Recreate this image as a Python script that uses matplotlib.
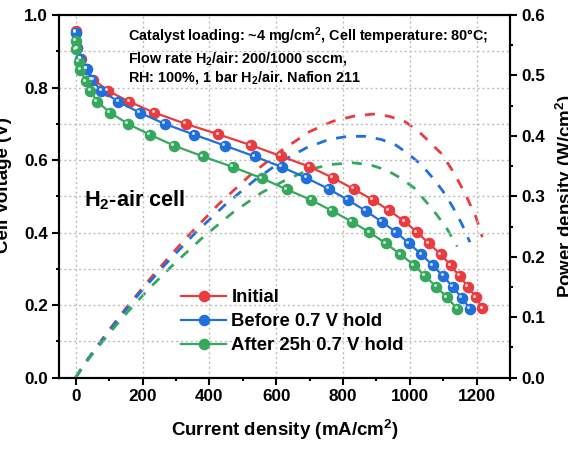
import numpy as np
import matplotlib
matplotlib.use('Agg')
import matplotlib.pyplot as plt
from matplotlib import transforms
from matplotlib.ticker import MultipleLocator

plt.rcParams['font.family'] = ['Liberation Sans', 'DejaVu Sans']
plt.rcParams['font.weight'] = 'bold'
plt.rcParams['axes.labelweight'] = 'bold'
plt.rcParams['mathtext.fontset'] = 'custom'
plt.rcParams['mathtext.rm'] = 'Liberation Sans:bold'
plt.rcParams['mathtext.bf'] = 'Liberation Sans:bold'
plt.rcParams['mathtext.default'] = 'bf'

# current density (mA/cm2) and cell voltage (V)
i_initial = [0, 5, 15, 32, 53, 97, 160, 235, 329, 427, 525, 614, 699, 770, 832,
             890, 938, 984, 1022, 1057, 1093, 1122, 1149, 1174, 1198, 1217]
v_initial = [0.955, 0.908, 0.879, 0.852, 0.822, 0.791, 0.761, 0.731, 0.700, 0.671,
             0.641, 0.611, 0.582, 0.551, 0.520, 0.490, 0.461, 0.431, 0.401, 0.370,
             0.340, 0.310, 0.280, 0.251, 0.222, 0.191]

i_before = [0, 4, 14, 33, 47, 77, 128, 191, 266, 355, 446, 536, 616, 690, 758,
            815, 868, 916, 959, 998, 1035, 1068, 1100, 1128, 1155, 1180]
v_before = [0.950, 0.908, 0.879, 0.851, 0.822, 0.791, 0.761, 0.731, 0.700, 0.670,
            0.640, 0.610, 0.581, 0.551, 0.520, 0.490, 0.460, 0.430, 0.401, 0.370,
            0.340, 0.310, 0.280, 0.251, 0.221, 0.190]

i_after = [0, 1, 10, 14, 31, 44, 64, 103, 156, 222, 294, 381, 470, 557, 632,
           705, 767, 827, 879, 929, 972, 1013, 1046, 1079, 1111, 1142]
v_after = [0.929, 0.905, 0.870, 0.848, 0.817, 0.791, 0.761, 0.731, 0.700, 0.670,
           0.640, 0.610, 0.581, 0.550, 0.519, 0.490, 0.460, 0.430, 0.401, 0.370,
           0.340, 0.310, 0.280, 0.251, 0.222, 0.190]

labels = ['Initial', 'Before 0.7 V hold', 'After 25h 0.7 V hold']
colors = ['#EA3B3F', '#1F6FDC', '#35A85E']

x_ticks = [0, 200, 400, 600, 800, 1000, 1200]


def main():
    fig = plt.figure(figsize=(5.68, 4.62), dpi=100)
    ax = fig.add_axes([0.1039, 0.1825, 0.794, 0.785])
    ax2 = ax.twinx()
    ax.set_zorder(ax2.get_zorder() + 1)
    ax.patch.set_visible(False)

    series = [(i_initial, v_initial), (i_before, v_before), (i_after, v_after)]
    hl = transforms.offset_copy(ax.transData, fig=fig, x=-1.2, y=1.2, units='points')
    for (cur, volt), lab, col in zip(series, labels, colors):
        cur = np.array(cur)
        volt = np.array(volt)
        ax.plot(cur, volt, '-o', color=col, lw=1.6, ms=7.3, mec=col, label=lab,
                zorder=3)
        # small glossy highlight on each ball
        ax.plot(cur, volt, 'o', color='white', ms=2.2, alpha=0.75, mew=0,
                transform=hl, zorder=4)
        # power density = I * V
        ax2.plot(cur, cur * volt / 1000, '--', color=col, lw=2,
                 dashes=(3.6, 3.6))

    ax.set_xlim(-50, 1300)
    ax.set_ylim(0, 1.0)
    ax2.set_ylim(0, 0.6)
    ax.set_xticks(x_ticks)
    ax.xaxis.set_minor_locator(MultipleLocator(100))
    ax.yaxis.set_major_locator(MultipleLocator(0.2))
    ax.yaxis.set_minor_locator(MultipleLocator(0.1))
    ax2.yaxis.set_major_locator(MultipleLocator(0.1))
    ax2.yaxis.set_minor_locator(MultipleLocator(0.05))

    ax.grid(True, which='major', axis='x', ls=(0, (1.5, 2)), color='#bdbdbd', lw=1)
    ax.grid(True, which='both', axis='y', ls=(0, (1.5, 2)), color='#bdbdbd', lw=1)

    for a in (ax, ax2):
        for s in a.spines.values():
            s.set_linewidth(1.5)
        a.tick_params(which='major', direction='out', length=5, width=1.5,
                      labelsize=12.3, pad=3)
        a.tick_params(which='minor', direction='out', length=2.5, width=1.5)
    ax.set_yticklabels([f'{v:.1f}' for v in ax.get_yticks()])
    ax2.set_yticklabels([f'{v:.1f}' for v in ax2.get_yticks()])

    ax.set_xlabel('Current density (mA/cm$^2$)', fontsize=13.5, labelpad=10.5)
    ax.set_ylabel('Cell Voltage (V)', fontsize=13.5)
    ax.yaxis.set_label_coords(-0.122, 0.53)
    ax.yaxis.label.set_va('center')
    ax2.set_ylabel('Power density (W/cm$^2$)', fontsize=13.5, rotation=90)
    ax2.yaxis.set_label_coords(1.125, 0.5)
    ax2.yaxis.label.set_va('center')

    ax.text(0.153, 0.972,
            'Catalyst loading: ~4 mg/cm$^2$, Cell temperature: 80°C;\n'
            'Flow rate H$_2$/air: 200/1000 sccm,\n'
            'RH: 100%, 1 bar H$_2$/air. Nafion 211',
            transform=ax.transAxes, fontsize=10.4, va='top', ha='left',
            linespacing=1.22)
    ax.text(0.055, 0.49, 'H$_2$-air cell', transform=ax.transAxes,
            fontsize=15.6, ha='left', va='center')

    ax.legend(loc='upper left', bbox_to_anchor=(0.255, 0.265), frameon=False,
              fontsize=13.3, handlelength=2.4, handletextpad=0.3,
              labelspacing=0.38, borderaxespad=0)

    fig.savefig('out.png', dpi=100)


if __name__ == "__main__":
    main()
